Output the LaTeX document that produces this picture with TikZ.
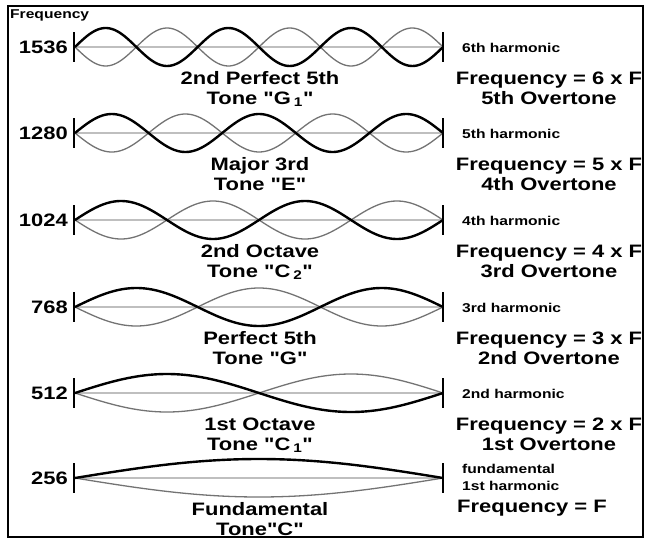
\documentclass[tikz,border=0pt]{standalone}
\usepackage{fontspec}
\setmainfont{Liberation Sans}[FakeStretch=1.22,Ligatures=TeXOff]
\newcommand\qt{\char34\relax}
\begin{document}
\begin{tikzpicture}[x=1pt,y=-1pt,
  wave/.style={line width=2.4pt,black},
  mirror/.style={line width=1.3pt,black!55},
  axis/.style={line width=1.2pt,black!25},
  bar/.style={line width=1.8pt,black},
  big/.style={font=\fontsize{18}{21}\selectfont\bfseries,inner sep=0pt},
  small/.style={font=\fontsize{12.8}{17}\selectfont\bfseries,inner sep=0pt}]
\useasboundingbox (0,0) rectangle (648,538);
\draw[line width=1.6pt] (8,6) rectangle (643,537);
\node[small,anchor=base west](freq) at (10,18){Frequency};
% strings: n loops, value, row
\foreach \n/\f/\y in {6/1536/47,5/1280/133,4/1024/220,3/768/307,2/512/393,1/256/478}{
  \draw[axis](75,\y)--(443,\y);
  \draw[mirror] plot[domain=0:1,samples=150] ({75+368*\x},{\y+19*sin(\n*180*\x)});
  \draw[wave] plot[domain=0:1,samples=150] ({75+368*\x},{\y-19*sin(\n*180*\x)});
  \draw[bar](74,\y-15)--(74,\y+15);
  \draw[bar](443,\y-15)--(443,\y+15);
  \node[big,anchor=base east](v\f) at (68,\y+6){\f};
}
% tone names
\foreach \f/\y/\na/\nb in {1536/47/2nd Perfect 5th/{Tone \qt G\,\textsubscript{1}\qt},1280/133/Major 3rd/{Tone \qt E\qt},1024/220/2nd Octave/{Tone \qt C\,\textsubscript{2}\qt},768/307/Perfect 5th/{Tone \qt G\qt},512/393/1st Octave/{Tone \qt C\,\textsubscript{1}\qt},256/478/Fundamental/{Tone\qt C\qt}}{
  \node[big,anchor=base](na\f) at (260,\y+37){\na};
  \node[big,anchor=base](nb\f) at (260,\y+57){\nb};
}
% harmonics and overtones
\foreach \f/\y/\h/\m/\o in {1536/47/6th/6/5th,1280/133/5th/5/4th,1024/220/4th/4/3rd,768/307/3rd/3/2nd,512/393/2nd/2/1st}{
  \node[small,anchor=base west](h\f) at (462,\y+5){\h{} harmonic};
  \node[big,anchor=base](ra\f) at (549,\y+37){Frequency = \m{} x F};
  \node[big,anchor=base](rb\f) at (549,\y+57){\o{} Overtone};
}
\node[small,anchor=base west](h256a) at (462,473){fundamental};
\node[small,anchor=base west](h256b) at (462,490){1st harmonic};
\node[big,anchor=base west](ra256) at (457,512){Frequency = F};
\end{tikzpicture}
\end{document}
